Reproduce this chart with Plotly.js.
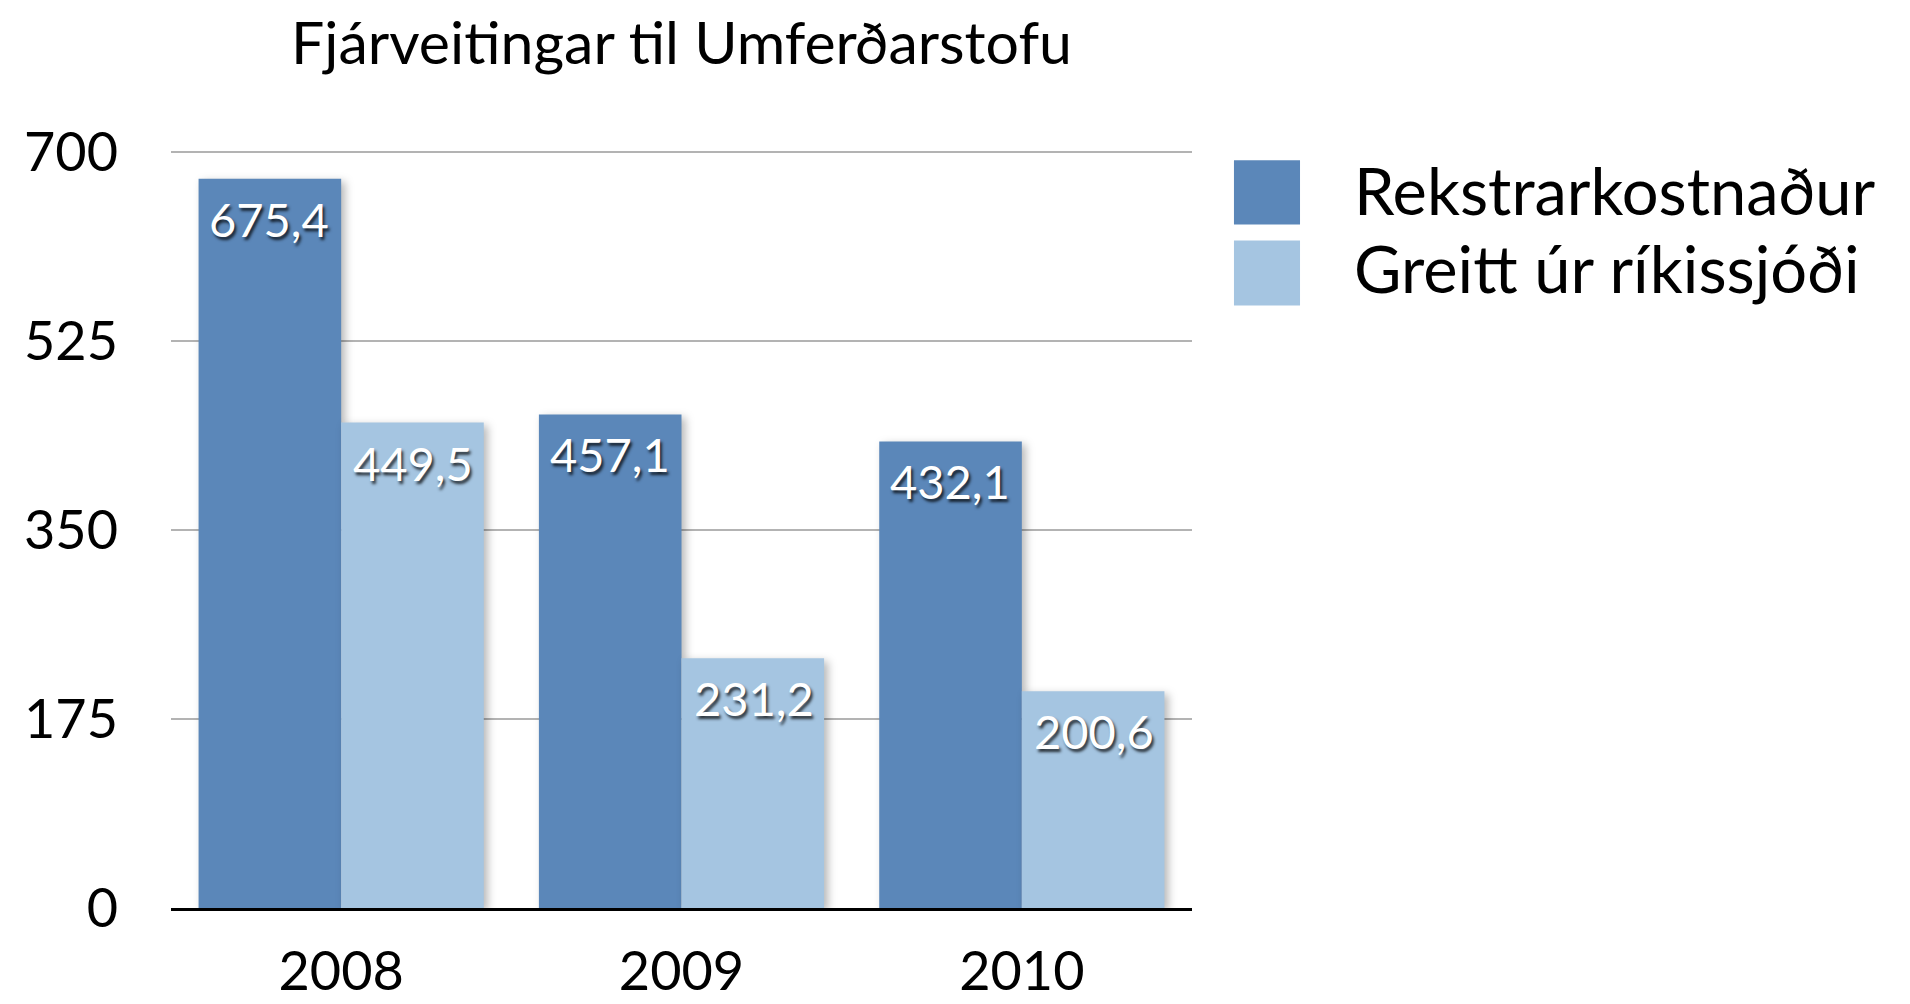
<!DOCTYPE html>
<html>
<head>
<meta charset="utf-8">
<script src="https://cdn.plot.ly/plotly-3.0.1.min.js"></script>
<style>
  html, body { margin: 0; padding: 0; background: #fff; }
  #chart { width: 1910px; height: 1004px; }
  .barlayer .point path { filter: drop-shadow(4px 3px 4px rgba(0,0,0,0.28)); }
</style>
</head>
<body>
<div id="chart"></div>
<script>
const categories = ['2008', '2009', '2010'];
const seriesNames = ['Rekstrarkostnaður', 'Greitt úr ríkissjóði'];
const rekstrarkostnadur = [675.4, 457.1, 432.1];
const greitt = [449.5, 231.2, 200.6];
const yTicks = [0, 175, 350, 525, 700];
const colors = ['#5B87B9', '#A5C5E1'];

const FONT = 'Lato, "Open Sans", sans-serif';
const seriesValues = [rekstrarkostnadur, greitt];

const traces = seriesValues.map((vals, i) => ({
  type: 'bar',
  name: seriesNames[i],
  x: categories,
  y: vals,
  marker: { color: colors[i], line: { width: 0 } },
  text: vals.map(v => v.toFixed(1).replace('.', ',')),
  textposition: 'none',
  hoverinfo: 'x+y'
}));

// value labels near the top inside each bar
const annotations = [];
seriesValues.forEach((vals, i) => {
  vals.forEach((v, j) => {
    annotations.push({
      x: j, y: v, xref: 'x', yref: 'y',
      text: v.toFixed(1).replace('.', ','),
      showarrow: false,
      xshift: i === 0 ? -72 : 72,
      yshift: -40,
      yanchor: 'middle',
      font: { family: FONT, size: 47, color: '#ffffff', shadow: '2px 3px 3px rgba(0,0,0,0.75)' }
    });
  });
});

// custom legend (large swatches)
const shapes = [];
const legendY = [[0.9877, 0.903], [0.8819, 0.7959]];
const legendTextY = [0.948, 0.845];
seriesNames.forEach((n, i) => {
  shapes.push({
    type: 'rect', xref: 'paper', yref: 'paper',
    x0: 1.0411, x1: 1.1058, y0: legendY[i][1], y1: legendY[i][0],
    fillcolor: colors[i], line: { width: 0 }
  });
  annotations.push({
    xref: 'paper', yref: 'paper', x: 1.1567, y: legendTextY[i],
    xanchor: 'left', yanchor: 'middle', showarrow: false,
    text: n, font: { family: FONT, size: 65, color: '#000' }
  });
});

const layout = {
  width: 1910, height: 1004,
  margin: { l: 171, r: 718, t: 151, b: 96, pad: 0 },
  paper_bgcolor: '#ffffff', plot_bgcolor: '#ffffff',
  showlegend: false,
  barmode: 'group',
  bargap: 0.162,
  bargroupgap: 0,
  title: {
    text: 'Fjárveitingar til Umferðarstofu',
    font: { family: FONT, size: 59, color: '#000' },
    x: 0.5, xref: 'paper', xanchor: 'center',
    y: 1 - 43 / 1004, yref: 'container', yanchor: 'middle'
  },
  xaxis: {
    type: 'category',
    range: [-0.5, 2.5],
    showgrid: false,
    showline: true, linecolor: '#000', linewidth: 3,
    ticks: '', ticklabelstandoff: 14,
    tickfont: { family: FONT, size: 54, color: '#000' },
    zeroline: false, fixedrange: true
  },
  yaxis: {
    range: [0, 701],
    tickmode: 'array', tickvals: yTicks, ticktext: yTicks.map(String),
    showgrid: true, gridcolor: '#b3b3b3', gridwidth: 2,
    showline: false, zeroline: false,
    ticks: '', ticklabelstandoff: 52,
    tickfont: { family: FONT, size: 54, color: '#000' },
    fixedrange: true
  },
  annotations: annotations,
  shapes: shapes
};

Plotly.newPlot('chart', traces, layout, { displayModeBar: false, staticPlot: true });
</script>
</body>
</html>
